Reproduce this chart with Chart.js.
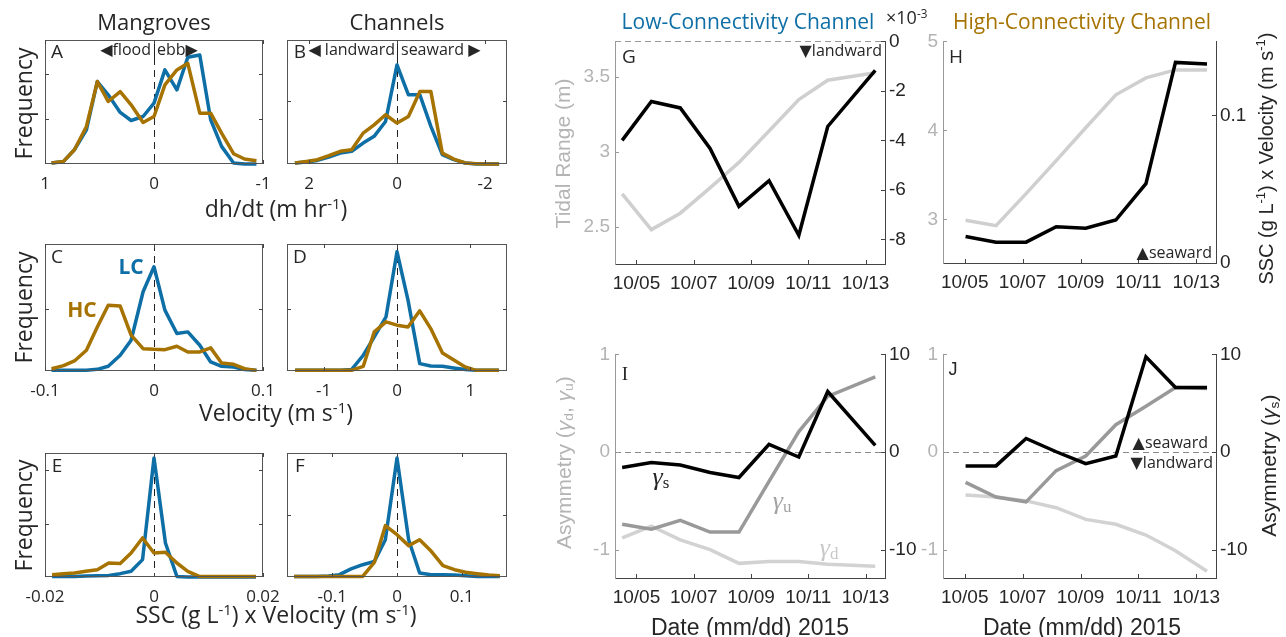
<!DOCTYPE html>
<html>
<head>
<meta charset="utf-8">
<script src="https://cdn.jsdelivr.net/npm/chart.js@4"></script>
<style>
  body { margin: 0; background: #fff; }
  #fig { position: relative; width: 1286px; height: 637px; overflow: hidden; background: #fff; }
  canvas { position: absolute; }
  .t { position: absolute; white-space: nowrap; font-family: 'Open Sans', 'DejaVu Sans', sans-serif; color: #262626; line-height: 1; }
  .t sup { font-size: 0.65em; vertical-align: 0.55em; }
  .t sub { font-size: 0.65em; vertical-align: -0.2em; }
  .ar { font-family: 'Liberation Sans', Arial, sans-serif; }
  .gm { font-family: 'Liberation Serif', 'DejaVu Serif', serif; }
</style>
</head>
<body>
<div id="fig"></div>
<script>
// ---- histogram panels: bin centres and normalised frequency ----
const binsA = [0.94, 0.83, 0.73, 0.62, 0.52, 0.42, 0.31, 0.21, 0.10, 0, -0.10, -0.21, -0.31, -0.42, -0.52, -0.62, -0.73, -0.83, -0.94];
const lcA = [0.008, 0.021, 0.115, 0.276, 0.665, 0.558, 0.416, 0.351, 0.383, 0.491, 0.759, 0.598, 0.861, 0.879, 0.357, 0.142, 0.008, 0, 0];
const hcA = [0.008, 0.021, 0.115, 0.303, 0.665, 0.504, 0.584, 0.477, 0.335, 0.383, 0.638, 0.759, 0.812, 0.410, 0.410, 0.249, 0.083, 0.040, 0.027];

const binsB = [2.32, 2.06, 1.81, 1.55, 1.29, 1.03, 0.77, 0.52, 0.26, 0, -0.26, -0.52, -0.77, -1.03, -1.29, -1.55, -1.81, -2.06, -2.32];
const lcB = [0.008, 0.016, 0.029, 0.056, 0.088, 0.102, 0.169, 0.223, 0.343, 0.799, 0.558, 0.558, 0.303, 0.075, 0.035, 0.008, 0, 0, 0];
const hcB = [0.008, 0.021, 0.035, 0.067, 0.102, 0.115, 0.249, 0.316, 0.397, 0.330, 0.383, 0.584, 0.584, 0.088, 0.040, 0.008, 0.003, 0, 0];

const binsC = [-0.094, -0.083, -0.073, -0.062, -0.052, -0.042, -0.031, -0.021, -0.010, 0, 0.010, 0.021, 0.031, 0.042, 0.052, 0.062, 0.073, 0.083, 0.094];
const lcC = [0.005, 0.005, 0.005, 0.005, 0.013, 0.037, 0.124, 0.242, 0.624, 0.821, 0.479, 0.295, 0.308, 0.203, 0.071, 0.037, 0.032, 0.011, 0.005];
const hcC = [0.018, 0.042, 0.079, 0.163, 0.347, 0.518, 0.511, 0.282, 0.176, 0.171, 0.168, 0.195, 0.150, 0.150, 0.182, 0.063, 0.053, 0.018, 0.005];

const binsD = [-1.39, -1.24, -1.08, -0.93, -0.77, -0.62, -0.46, -0.31, -0.15, 0, 0.15, 0.31, 0.46, 0.62, 0.77, 0.93, 1.08, 1.24, 1.39];
const lcD = [0.005, 0.005, 0.005, 0.005, 0.005, 0.011, 0.124, 0.268, 0.426, 0.939, 0.558, 0.058, 0.039, 0.037, 0.024, 0.011, 0.005, 0.005, 0.005];
const hcD = [0.005, 0.005, 0.005, 0.005, 0.005, 0.005, 0.037, 0.308, 0.387, 0.361, 0.347, 0.474, 0.334, 0.142, 0.089, 0.032, 0.005, 0.005, 0.005];

const binsE = [-0.0187, -0.0166, -0.0146, -0.0125, -0.0104, -0.0083, -0.0062, -0.0042, -0.0021, 0, 0.0021, 0.0042, 0.0062, 0.0083, 0.0104, 0.0125, 0.0146, 0.0166, 0.0187];
const lcE = [0.005, 0.005, 0.005, 0.008, 0.011, 0.013, 0.027, 0.046, 0.140, 0.960, 0.274, 0.005, 0, 0, 0, 0, 0, 0, 0];
const hcE = [0.019, 0.027, 0.032, 0.046, 0.059, 0.113, 0.108, 0.194, 0.315, 0.194, 0.199, 0.113, 0.046, 0.005, 0.005, 0.005, 0.005, 0.005, 0.005];

const binsF = [-0.159, -0.142, -0.124, -0.106, -0.089, -0.071, -0.053, -0.035, -0.018, 0, 0.018, 0.035, 0.053, 0.071, 0.089, 0.106, 0.124, 0.142, 0.159];
const lcF = [0.005, 0.005, 0.005, 0.008, 0.019, 0.065, 0.099, 0.126, 0.301, 0.960, 0.301, 0.032, 0.019, 0.019, 0.016, 0.011, 0.005, 0.005, 0.005];
const hcF = [0.005, 0.005, 0.005, 0.005, 0.005, 0.005, 0.005, 0.118, 0.414, 0.341, 0.253, 0.301, 0.207, 0.091, 0.059, 0.038, 0.027, 0.016, 0.011];

// ---- time series panels (day of October 2015) ----
const dayLC = [4.50, 5.52, 6.53, 7.57, 8.58, 9.63, 10.67, 11.68, 13.34];
const dayHC = [5.03, 6.08, 7.12, 8.16, 9.18, 10.22, 11.26, 12.28, 13.37];
const tideLC = [2.72, 2.48, 2.59, 2.76, 2.93, 3.14, 3.35, 3.48, 3.53];
const fluxLC = [-0.0040, -0.00243, -0.00269, -0.00433, -0.00667, -0.00563, -0.00784, -0.00344, -0.00117];
const tideHC = [2.99, 2.93, 3.29, 3.66, 4.03, 4.40, 4.59, 4.68, 4.68];
const fluxHC = [0.0179, 0.0141, 0.0141, 0.0246, 0.0235, 0.0291, 0.0537, 0.1358, 0.1347];
const gsLC = [-1.59, -1.08, -1.32, -2.10, -2.61, 0.78, -0.51, 6.20, 0.68];
const guLC = [-0.74, -0.79, -0.70, -0.82, -0.82, -0.30, 0.21, 0.57, 0.77];
const gdLC = [-0.88, -0.76, -0.90, -1.00, -1.14, -1.12, -1.12, -1.15, -1.17];
const gsHC = [-1.42, -1.42, 1.39, 0.03, -1.19, -0.41, 9.76, 6.61, 6.61];
const guHC = [-0.31, -0.46, -0.51, -0.19, -0.04, 0.28, 0.47, 0.66, 0.65];
const gdHC = [-0.44, -0.46, -0.50, -0.57, -0.69, -0.74, -0.85, -1.01, -1.22];

const dateTicks = [5, 7, 9, 11, 13];
const dateLabels = ['10/05', '10/07', '10/09', '10/11', '10/13'];

const BLUE = '#0e6ea6', GOLD = '#a67300';
const INK = '#262626', AXGRAY = '#b4b4b4';

const fig = document.getElementById('fig');
const pts = (xs, ys) => xs.map((x, i) => ({ x, y: ys[i] }));

function seg(ctx, x1, y1, x2, y2) {
  ctx.beginPath(); ctx.moveTo(x1, y1); ctx.lineTo(x2, y2); ctx.stroke();
}

// box outline, inward tick marks and zero reference lines
const decor = {
  id: 'decor',
  beforeDatasetsDraw(chart, _a, o) {
    const { ctx, chartArea: a } = chart;
    ctx.save();
    ctx.lineWidth = 1;
    if (o.hZero) {
      const y = Math.round(chart.scales[o.hZero.axis].getPixelForValue(0)) + 0.5;
      ctx.strokeStyle = o.hZero.color; ctx.setLineDash([6, 4]);
      seg(ctx, a.left, y, a.right, y);
    }
    if (o.vZero) {
      const x = Math.round(chart.scales.x.getPixelForValue(0)) + 0.5;
      ctx.strokeStyle = '#222'; ctx.setLineDash([7, 5]);
      seg(ctx, x, a.top + (o.vZero.solidTop || 0), x, a.bottom);
      ctx.setLineDash([]);
      if (o.vZero.solidTop) seg(ctx, x, a.top, x, a.top + o.vZero.solidTop);
    }
    ctx.restore();
  },
  afterDatasetsDraw(chart, _a, o) {
    const { ctx, chartArea: a } = chart;
    const L = 4;
    ctx.save();
    ctx.lineWidth = 1;
    if (o.box) {
      ctx.strokeStyle = o.box;
      ctx.strokeRect(a.left + 0.5, a.top + 0.5, a.width - 1, a.height - 1);
    }
    (o.ticks || []).forEach(t => {
      const s = chart.scales[t.axis];
      ctx.strokeStyle = t.color || '#444';
      t.values.forEach(v => {
        const p = Math.round(s.getPixelForValue(v)) + 0.5;
        t.sides.forEach(side => {
          if (side === 'bottom') seg(ctx, p, a.bottom, p, a.bottom - L);
          if (side === 'top') seg(ctx, p, a.top, p, a.top + L);
          if (side === 'left') seg(ctx, a.left, p, a.left + L, p);
          if (side === 'right') seg(ctx, a.right, p, a.right - L, p);
        });
      });
    });
    ctx.restore();
  }
};

function canvasFor(box, pad) {
  const c = document.createElement('canvas');
  c.width = box.w + pad.l + pad.r;
  c.height = box.h + pad.t + pad.b;
  c.style.left = (box.x - pad.l) + 'px';
  c.style.top = (box.y - pad.t) + 'px';
  fig.appendChild(c);
  return c;
}

function fixedTicks(values) {
  return s => { s.ticks = values.map(v => ({ value: v })); };
}

// frequency distribution of one variable for both channels
function histPanel(box, bins, lc, hc, xr, xTicks, xLabels, yTicks, reverse, solidTop) {
  const pad = { l: 30, r: 30, t: 10, b: 40 };
  const c = canvasFor(box, pad);
  const line = (d, col) => ({ data: pts(bins, d), borderColor: col, borderWidth: 3.5, pointRadius: 0, tension: 0, clip: false, borderJoinStyle: 'round' });
  new Chart(c, {
    type: 'line',
    data: { datasets: [line(hc, GOLD), line(lc, BLUE)] },
    options: {
      responsive: false, animation: false, events: [],
      layout: { padding: { top: pad.t, right: pad.r, left: 0, bottom: 0 } },
      plugins: {
        legend: { display: false }, tooltip: { enabled: false },
        decor: {
          box: '#555',
          vZero: { solidTop: solidTop },
          ticks: [
            { axis: 'x', values: xTicks, sides: ['bottom', 'top'] },
            { axis: 'y', values: yTicks, sides: ['left', 'right'] }
          ]
        }
      },
      scales: {
        x: {
          type: 'linear', min: -xr, max: xr, reverse: reverse,
          afterBuildTicks: fixedTicks(xTicks),
          afterFit: s => { s.height = pad.b; },
          grid: { display: false, drawTicks: false }, border: { display: false },
          ticks: { autoSkip: false, maxRotation: 0, padding: 10, color: INK,
                   font: { family: 'Open Sans', size: 17 }, callback: (v, i) => xLabels[i] }
        },
        y: {
          min: 0, max: 1,
          afterFit: s => { s.width = pad.l; },
          grid: { display: false, drawTicks: false }, border: { display: false },
          ticks: { display: false }
        }
      }
    },
    plugins: [decor]
  });
}

// time series with a left and a right axis
function seriesPanel(box, datasets, left, right, zero) {
  const pad = { l: 45, r: 45, t: 15, b: 40 };
  const c = canvasFor(box, pad);
  const tickFont = { family: 'Liberation Sans', size: 19 };
  new Chart(c, {
    type: 'line',
    data: { datasets: datasets.map(d => Object.assign({ pointRadius: 0, tension: 0, borderWidth: 3.5, clip: false }, d)) },
    options: {
      responsive: false, animation: false, events: [],
      layout: { padding: { top: pad.t, right: 0, left: 0, bottom: 0 } },
      plugins: {
        legend: { display: false }, tooltip: { enabled: false },
        decor: {
          hZero: zero,
          ticks: [
            { axis: 'x', values: dateTicks, sides: ['bottom'] },
            { axis: 'y', values: left.ticks, sides: ['left'], color: '#999' },
            { axis: 'y2', values: right.ticks, sides: ['right'] }
          ]
        }
      },
      scales: {
        x: {
          type: 'linear', min: 4.25, max: 13.68,
          afterBuildTicks: fixedTicks(dateTicks),
          afterFit: s => { s.height = pad.b; },
          grid: { display: false, drawTicks: false }, border: { color: '#444' },
          ticks: { autoSkip: false, maxRotation: 0, padding: 8, color: INK, font: tickFont,
                   callback: (v, i) => dateLabels[i] }
        },
        y: {
          position: 'left', min: left.min, max: left.max,
          afterBuildTicks: fixedTicks(left.ticks),
          afterFit: s => { s.width = pad.l; },
          grid: { display: false, drawTicks: false }, border: { color: '#999' },
          ticks: { padding: 5, color: AXGRAY, font: tickFont, callback: (v, i) => left.labels[i] }
        },
        y2: {
          position: 'right', min: right.min, max: right.max,
          afterBuildTicks: fixedTicks(right.ticks),
          afterFit: s => { s.width = pad.r; },
          grid: { display: false, drawTicks: false }, border: { color: '#444' },
          ticks: { padding: 4, color: INK, font: tickFont, callback: (v, i) => right.labels[i] }
        }
      }
    },
    plugins: [decor]
  });
}

// histograms
histPanel({ x: 45, y: 40, w: 218, h: 124 }, binsA, lcA, hcA, 1, [-1, 0, 1], ['-1', '0', '1'], [0.362, 0.727], true, 18);
histPanel({ x: 287, y: 40, w: 220, h: 124 }, binsB, lcB, hcB, 2.5, [-2, 0, 2], ['-2', '0', '2'], [0.512], true, 18);
histPanel({ x: 45, y: 244, w: 218, h: 127 }, binsC, lcC, hcC, 0.1, [-0.1, 0, 0.1], ['-0.1', '0', '0.1'], [0.492], false, 0);
histPanel({ x: 287, y: 244, w: 220, h: 127 }, binsD, lcD, hcD, 1.5, [-1, 0, 1], ['-1', '0', '1'], [0.492], false, 0);
histPanel({ x: 45, y: 453, w: 218, h: 124 }, binsE, lcE, hcE, 0.02, [-0.02, 0, 0.02], ['-0.02', '0', '0.02'], [0.427, 0.86], false, 0);
histPanel({ x: 287, y: 453, w: 220, h: 124 }, binsF, lcF, hcF, 0.17, [-0.1, 0, 0.1], ['-0.1', '0', '0.1'], [0.503], false, 0);

// tidal range and sediment flux
seriesPanel({ x: 615, y: 40, w: 270, h: 224 },
  [{ data: pts(dayLC, fluxLC), borderColor: '#000', yAxisID: 'y2' },
   { data: pts(dayLC, tideLC), borderColor: '#cfcfcf', yAxisID: 'y' }],
  { min: 2.25, max: 3.74, ticks: [2.5, 3, 3.5], labels: ['2.5', '3', '3.5'] },
  { min: -0.009, max: 0, ticks: [-0.008, -0.006, -0.004, -0.002, 0], labels: ['-8', '-6', '-4', '-2', '0'] },
  { axis: 'y2', color: '#9a9a9a' });
seriesPanel({ x: 943, y: 40, w: 273, h: 223 },
  [{ data: pts(dayHC, fluxHC), borderColor: '#000', yAxisID: 'y2' },
   { data: pts(dayHC, tideHC), borderColor: '#cfcfcf', yAxisID: 'y' }],
  { min: 2.51, max: 5, ticks: [3, 4, 5], labels: ['3', '4', '5'] },
  { min: 0, max: 0.15, ticks: [0, 0.1], labels: ['0', '0.1'] },
  null);

// asymmetry
const asymL = { min: -1.29, max: 1, ticks: [-1, 0, 1], labels: ['-1', '0', '1'] };
const asymR = { min: -12.9, max: 10, ticks: [-10, 0, 10], labels: ['-10', '0', '10'] };
seriesPanel({ x: 615, y: 353, w: 270, h: 225 },
  [{ data: pts(dayLC, gsLC), borderColor: '#000', yAxisID: 'y2' },
   { data: pts(dayLC, guLC), borderColor: '#999999', yAxisID: 'y' },
   { data: pts(dayLC, gdLC), borderColor: '#d2d2d2', yAxisID: 'y' }],
  asymL, asymR, { axis: 'y', color: '#8a8a8a' });
seriesPanel({ x: 943, y: 353, w: 273, h: 225 },
  [{ data: pts(dayHC, gsHC), borderColor: '#000', yAxisID: 'y2' },
   { data: pts(dayHC, guHC), borderColor: '#999999', yAxisID: 'y' },
   { data: pts(dayHC, gdHC), borderColor: '#d2d2d2', yAxisID: 'y' }],
  asymL, asymR, { axis: 'y', color: '#8a8a8a' });

// ---- text ----
function label(html, x, y, opts = {}) {
  const d = document.createElement('div');
  d.className = 't' + (opts.cls ? ' ' + opts.cls : '');
  d.innerHTML = html;
  d.style.fontSize = (opts.size || 17) + 'px';
  if (opts.color) d.style.color = opts.color;
  if (opts.weight) d.style.fontWeight = opts.weight;
  d.style.left = x + 'px';
  d.style.top = y + 'px';
  const ax = opts.align === 'right' ? '-100%' : opts.align === 'left' ? '0' : '-50%';
  d.style.transform = `translate(${ax}, -50%)` + (opts.rot ? ' rotate(-90deg)' : '');
  if (opts.rot) d.style.transformOrigin = '0 0';
  fig.appendChild(d);
  if (opts.rot) {
    // rotate about the centre point
    d.style.transform = 'rotate(-90deg)';
    d.style.transformOrigin = 'center center';
    const w = d.offsetWidth, h = d.offsetHeight;
    d.style.left = (x - w / 2) + 'px';
    d.style.top = (y - h / 2) + 'px';
  }
  return d;
}

label('Mangroves', 154, 21, { size: 22 });
label('Channels', 397, 21, { size: 22 });
[103, 307, 515].forEach(y => label('Frequency', 24, y, { size: 23, rot: true }));
label('dh/dt (m hr<sup>-1</sup>)', 276, 208, { size: 23 });
label('Velocity (m s<sup>-1</sup>)', 276, 412, { size: 23 });
label('SSC (g L<sup>-1</sup>) x Velocity (m s<sup>-1</sup>)', 276, 614, { size: 23 });

label('A', 57, 51, { size: 19 });
label('B', 300, 51, { size: 19 });
label('C', 57, 256, { size: 19 });
label('D', 300, 256, { size: 19 });
label('E', 57, 465, { size: 19 });
label('F', 300, 465, { size: 19 });
label('◀flood', 151, 49, { size: 16, align: 'right' });
label('ebb▶', 157, 49, { size: 16, align: 'left' });
label('◀ landward', 395, 49, { size: 16, align: 'right' });
label('seaward ▶', 401, 49, { size: 16, align: 'left' });
label('LC', 131, 266, { size: 21, weight: 700, color: BLUE });
label('HC', 82, 309, { size: 21, weight: 700, color: GOLD });

label('Low-Connectivity Channel', 748, 21, { size: 21, color: BLUE });
label('High-Connectivity Channel', 1082, 21, { size: 21, color: GOLD });
label('×10<sup>-3</sup>', 886, 17, { size: 18, align: 'left' });
label('G', 629, 56, { size: 19 });
label('H', 956, 56, { size: 19 });
label('I', 625, 373, { size: 19, cls: 'gm' });
label('J', 953, 369, { size: 18, cls: 'ar' });
label('▼landward', 882, 50, { size: 16, align: 'right' });
label('▲seaward', 1212, 252, { size: 16, align: 'right' });
label('▲seaward', 1208, 442, { size: 16, align: 'right' });
label('▼landward', 1213, 462, { size: 16, align: 'right' });

label('Tidal Range (m)', 563, 153, { size: 21, cls: 'ar', color: AXGRAY, rot: true });
label('SSC (g L<sup>-1</sup>) x Velocity (m s<sup>-1</sup>)', 1265, 158, { size: 20, cls: 'ar', rot: true });
label('Asymmetry (<i>γ</i><sub>d</sub>, <i>γ</i><sub>u</sub>)', 564, 462, { size: 21, cls: 'ar', color: AXGRAY, rot: true });
label('Asymmetry (<i>γ</i><sub>s</sub>)', 1270, 465, { size: 21, cls: 'ar', rot: true });
label('Date (mm/dd) 2015', 750, 627, { size: 23, cls: 'ar' });
label('Date (mm/dd) 2015', 1082, 627, { size: 23, cls: 'ar' });

label('<i>γ</i><sub>s</sub>', 661, 478, { size: 26, cls: 'gm' });
label('<i>γ</i><sub>u</sub>', 782, 502, { size: 26, cls: 'gm', color: '#a3a3a3' });
label('<i>γ</i><sub>d</sub>', 829, 549, { size: 26, cls: 'gm', color: '#c8c8c8' });
</script>
</body>
</html>
